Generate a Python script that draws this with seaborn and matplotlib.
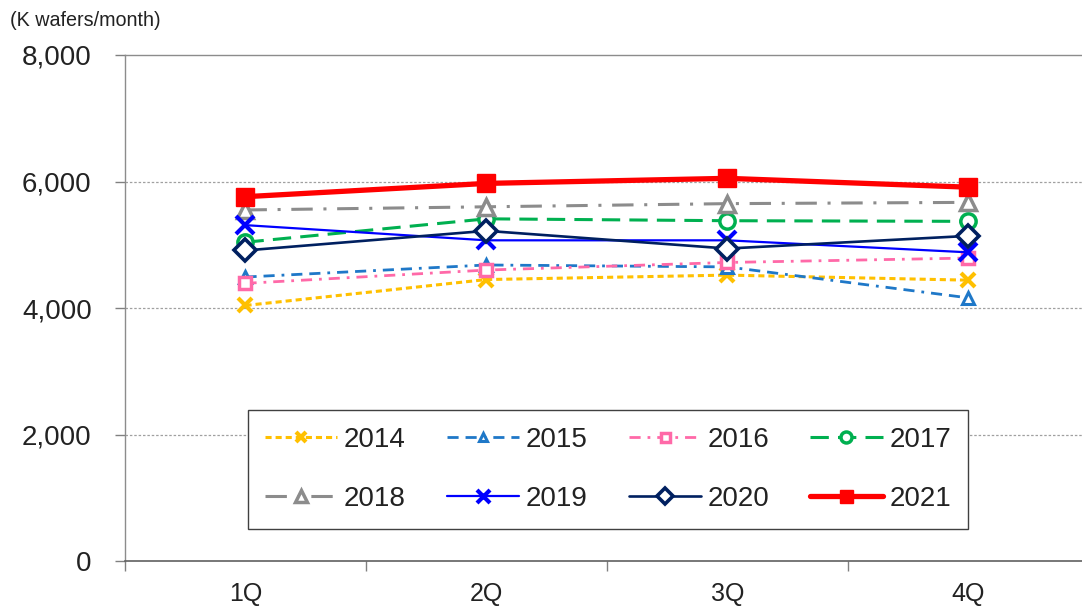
import matplotlib
matplotlib.use("Agg")
import matplotlib.pyplot as plt
import seaborn as sns
import pandas as pd
from matplotlib.ticker import FuncFormatter, FixedLocator

sns.set_theme(style="white")
plt.rcParams["font.family"] = ["Liberation Sans", "DejaVu Sans"]

quarters = ["1Q", "2Q", "3Q", "4Q"]
years = ["2014", "2015", "2016", "2017", "2018", "2019", "2020", "2021"]
v2014 = [4040, 4450, 4520, 4440]
v2015 = [4490, 4680, 4650, 4160]
v2016 = [4390, 4600, 4720, 4790]
v2017 = [5040, 5410, 5380, 5370]
v2018 = [5550, 5600, 5650, 5670]
v2019 = [5310, 5070, 5070, 4880]
v2020 = [4910, 5220, 4940, 5140]
v2021 = [5760, 5970, 6050, 5910]
series = [v2014, v2015, v2016, v2017, v2018, v2019, v2020, v2021]

styles = {
    "2014": dict(color="#FFC000", linestyle=(0, (2.0, 1.3)), linewidth=2.2,
                 marker="x", markersize=10, markeredgewidth=3.0, markerfacecolor="none"),
    "2015": dict(color="#1F78C8", linestyle=(0, (4.0, 2.5, 4.0, 2.5, 1.0, 2.5)), linewidth=2.0,
                 marker="^", markersize=8, markeredgewidth=2.2, markerfacecolor="white"),
    "2016": dict(color="#FF69A8", linestyle=(0, (4.0, 2.5, 1.0, 2.5)), linewidth=2.0,
                 marker="s", markersize=9, markeredgewidth=2.5, markerfacecolor="white"),
    "2017": dict(color="#00B050", linestyle=(0, (6.0, 3.0)), linewidth=2.2,
                 marker="o", markersize=11, markeredgewidth=2.5, markerfacecolor="white"),
    "2018": dict(color="#8C8C8C", linestyle=(0, (7.0, 3.5, 1.0, 3.5)), linewidth=2.2,
                 marker="^", markersize=12, markeredgewidth=2.5, markerfacecolor="white"),
    "2019": dict(color="#0000FF", linestyle="-", linewidth=1.6,
                 marker="x", markersize=13, markeredgewidth=3.0, markerfacecolor="none"),
    "2020": dict(color="#002060", linestyle="-", linewidth=1.9,
                 marker="D", markersize=11, markeredgewidth=2.6, markerfacecolor="white"),
    "2021": dict(color="#FF0000", linestyle="-", linewidth=3.8,
                 marker="s", markersize=13, markeredgewidth=1.0, markerfacecolor="#FF0000"),
}

fig = plt.figure(figsize=(10.82, 6.08), dpi=100)
ax = fig.add_axes([125 / 1082, 1 - 561 / 608, 957 / 1082, 506 / 608])

for year, vals in zip(years, series):
    df = pd.DataFrame({"quarter": quarters, "value": vals})
    st = dict(styles[year])
    st["markeredgecolor"] = st["color"]
    sns.lineplot(data=df, x="quarter", y="value", ax=ax, label=year,
                 sort=False, **st)

ax.set_xlim(-0.5, 3.471)
ax.set_ylim(0, 8000)
ax.set_xlabel("")
ax.set_ylabel("")

# dotted grid lines at intermediate levels
for yv in [2000, 4000, 6000]:
    ax.axhline(yv, color="#A0A0A0", linewidth=0.9, linestyle=(0, (2, 1.5)), zorder=0)

ax.set_yticks([0, 2000, 4000, 6000, 8000])
ax.yaxis.set_major_formatter(FuncFormatter(lambda v, p: f"{int(v):,}"))
ax.tick_params(axis="y", which="major", direction="out", length=7, width=1.0,
               color="#808080", labelsize=20, pad=17, labelcolor="#222222", left=True)

ax.set_xticks(range(len(quarters)))
ax.set_xticklabels(quarters)
ax.xaxis.set_minor_locator(FixedLocator([-0.5, 0.5, 1.5, 2.5]))
ax.tick_params(axis="x", which="major", length=0, labelsize=18, pad=15, labelcolor="#222222")
ax.tick_params(axis="x", which="minor", direction="out", length=7, width=1.0,
               color="#808080", bottom=True)

for side in ["left", "top"]:
    ax.spines[side].set_color("#8C8C8C")
    ax.spines[side].set_linewidth(1.0)
ax.spines["bottom"].set_color("#606060")
ax.spines["bottom"].set_linewidth(1.2)
ax.spines["right"].set_visible(False)

# legend laid out row by row: 2014-2017 on top, 2018-2021 below
handles, labels = ax.get_legend_handles_labels()
order = [0, 4, 1, 5, 2, 6, 3, 7]
leg = ax.legend([handles[i] for i in order], [labels[i] for i in order],
                loc="center", bbox_to_anchor=(0.5047, 0.1808), ncol=4, fontsize=20,
                frameon=True, fancybox=False, edgecolor="#404040", framealpha=1,
                handlelength=2.6, handletextpad=0.25, columnspacing=1.47,
                labelspacing=1.2, borderpad=0.6, numpoints=1, markerscale=0.72)
leg.get_frame().set_linewidth(1.0)
for t in leg.get_texts():
    t.set_color("#222222")

fig.text(10 / 1082, 1 - 20 / 608, "(K wafers/month)", fontsize=14.2, color="#222222",
         ha="left", va="center")

fig.savefig("out.png", dpi=100)
